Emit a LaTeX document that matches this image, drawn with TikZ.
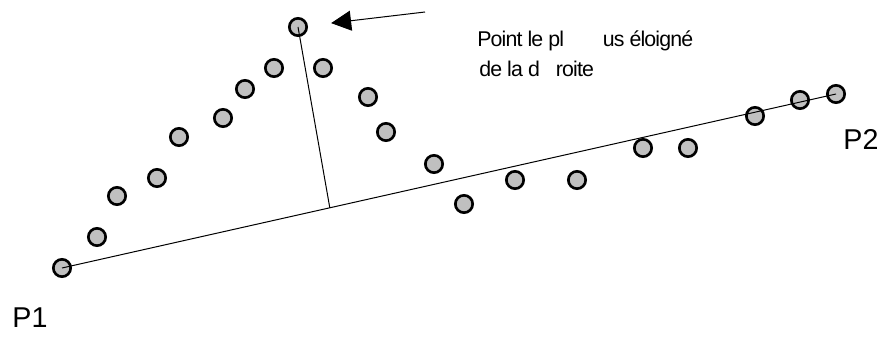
\documentclass[tikz,border=0pt]{standalone}
\usepackage{fontspec}
\setmainfont{Liberation Sans}
\usepackage{tikz}
\usetikzlibrary{arrows.meta,calc}
\definecolor{gris}{RGB}{192,192,192}
\tikzset{
  pt_n/.style = {circle, draw=black, fill=gris, line width=2pt,
    minimum size=13pt, inner sep=0pt},% point du nuage
  seg/.style = {line width=0.75pt},% segments fins
  lbl_p/.style = {inner sep=0pt, font=\fontsize{21.5pt}{25pt}\selectfont},% P1, P2
  lbl_t/.style = {inner sep=0pt, anchor=base west,
    font=\fontsize{16pt}{19pt}\selectfont\addfontfeature{LetterSpace=-4}}% legende
}

\begin{document}
\begin{tikzpicture}[x=0.75pt, y=-0.75pt]
\useasboundingbox (0,0) rectangle (884,338);

% nuage de points
\node[pt_n] (p1)  at (62,268)  {};
\node[pt_n] (a2)  at (97,237)  {};
\node[pt_n] (a3)  at (117,196) {};
\node[pt_n] (a4)  at (157,178) {};
\node[pt_n] (a5)  at (179,137) {};
\node[pt_n] (a6)  at (223,118) {};
\node[pt_n] (a7)  at (245,89)  {};
\node[pt_n] (a8)  at (274,68)  {};
\node[pt_n] (loin) at (298,27) {};
\node[pt_n] (a9)  at (323,68)  {};
\node[pt_n] (a10) at (368,97)  {};
\node[pt_n] (a11) at (386,132) {};
\node[pt_n] (a12) at (434,164) {};
\node[pt_n] (a13) at (464,204) {};
\node[pt_n] (a14) at (515,180) {};
\node[pt_n] (a15) at (577,180) {};
\node[pt_n] (a16) at (643,148) {};
\node[pt_n] (a17) at (688,148) {};
\node[pt_n] (a18) at (755,116) {};
\node[pt_n] (a19) at (800,100) {};
\node[pt_n] (p2)  at (836,94)  {};

% droite P1-P2 et distance
\coordinate (pied) at ($(p1.center)!0.346!(p2.center)$);
\draw[seg] (p1.center) -- (p2.center);
\draw[seg] (loin.center) -- (pied);

% fleche vers le point le plus eloigne
\coordinate (fl) at (425,12);
\draw[seg, -{Triangle[length=15pt,width=15pt]}, shorten >=25pt] (fl) -- (loin.center);

\node[lbl_p] (l1) at (30,318) {P1};
\node[lbl_p] (l2) at (861,139) {P2};

\node[lbl_t] (t1) at (477,47) {Point le pl\hspace{29pt}us éloigné};
\node[lbl_t] (t2) at (479,77) {de la d\hspace{12pt}roite};
\end{tikzpicture}
\end{document}
